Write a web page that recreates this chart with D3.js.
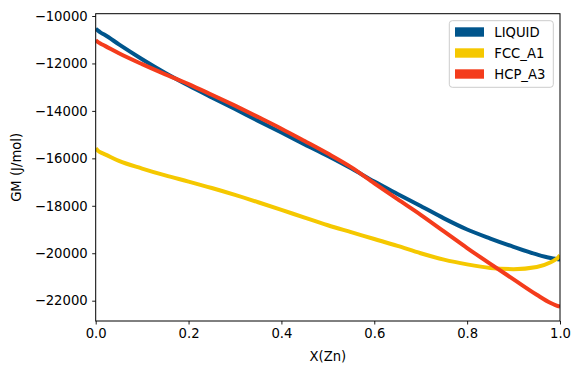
<!DOCTYPE html>
<html>
<head>
<meta charset="utf-8">
<script src="https://cdn.jsdelivr.net/npm/d3@7"></script>
<style>
  html, body { margin: 0; padding: 0; background: #fff; }
  svg { display: block; }
  text { font-family: "DejaVu Sans", sans-serif; }
</style>
</head>
<body>
<svg id="chart" width="581" height="374"></svg>
<script>
// ---- data ----
const xValues  = [0, 0.005, 0.01, 0.02, 0.05, 0.1, 0.15, 0.2, 0.25, 0.3, 0.35, 0.4, 0.45, 0.5, 0.55, 0.6, 0.65, 0.7, 0.75, 0.8, 0.85, 0.9, 0.95, 0.98, 0.99, 0.995, 1.0];
const liquidGM = [-10540, -10620, -10690, -10800, -11195, -11820, -12400, -12930, -13430, -13920, -14420, -14910, -15410, -15900, -16420, -16980, -17500, -18010, -18530, -19000, -19380, -19730, -20050, -20200, -20235, -20250, -20260];
const fccGM    = [-15580, -15680, -15740, -15830, -16110, -16430, -16720, -16980, -17250, -17540, -17850, -18170, -18500, -18820, -19110, -19400, -19690, -20000, -20270, -20470, -20620, -20670, -20580, -20380, -20270, -20200, -20090];
const hcpGM    = [-11020, -11100, -11160, -11260, -11570, -12030, -12460, -12870, -13320, -13780, -14260, -14750, -15270, -15800, -16370, -17050, -17720, -18380, -19080, -19780, -20450, -21100, -21750, -22100, -22190, -22225, -22250];
const seriesNames  = ["LIQUID", "FCC_A1", "HCP_A3"];
const seriesColors = ["#00558C", "#F5C800", "#F43C1C"];
const xTicks = [0, 0.2, 0.4, 0.6, 0.8, 1.0];
const yTicks = [-22000, -20000, -18000, -16000, -14000, -12000, -10000];
const xLabel = "X(Zn)";
const yLabel = "GM (J/mol)";

const series = [liquidGM, fccGM, hcpGM].map((vals, i) => ({
  name: seriesNames[i], color: seriesColors[i],
  points: xValues.map((x, j) => [x, vals[j]])
}));

// ---- layout ----
const svg = d3.select("#chart");
const m = { left: 95.7, right: 560, top: 13.7, bottom: 321 };
const x = d3.scaleLinear().domain([0, 1]).range([m.left, m.right]);
const y = d3.scaleLinear().domain([-22856, -9903]).range([m.bottom, m.top]);
const fs = 13.2;

svg.append("defs").append("clipPath").attr("id", "clip")
  .append("rect").attr("x", m.left).attr("y", m.top)
  .attr("width", m.right - m.left).attr("height", m.bottom - m.top);

const line = d3.line().x(d => x(d[0])).y(d => y(d[1])).curve(d3.curveMonotoneX);

const g = svg.append("g").attr("clip-path", "url(#clip)");
series.forEach(s => {
  g.append("path").attr("d", line(s.points))
    .attr("fill", "none").attr("stroke", s.color).attr("stroke-width", 4);
});

// axes
const fmtMinus = v => (v < 0 ? "\u2212" : "") + Math.abs(v);
const xAxis = d3.axisBottom(x).tickValues(xTicks).tickFormat(d3.format(".1f")).tickSize(3.5).tickPadding(4.5);
const yAxis = d3.axisLeft(y).tickValues(yTicks).tickFormat(fmtMinus).tickSize(3.5).tickPadding(4.5);

const gx = svg.append("g").attr("transform", `translate(0,${m.bottom})`).call(xAxis);
const gy = svg.append("g").attr("transform", `translate(${m.left},0)`).call(yAxis);
[gx, gy].forEach(a => {
  a.select(".domain").remove();
  a.selectAll("line").attr("stroke", "#000").attr("stroke-width", 0.9);
  a.selectAll("text").attr("font-size", fs).attr("fill", "#000").attr("font-family", "DejaVu Sans");
});

// frame
svg.append("rect").attr("x", m.left).attr("y", m.top)
  .attr("width", m.right - m.left).attr("height", m.bottom - m.top)
  .attr("fill", "none").attr("stroke", "#000").attr("stroke-width", 1);

// axis labels
svg.append("text").attr("x", (m.left + m.right) / 2).attr("y", 360.5)
  .attr("text-anchor", "middle").attr("font-size", fs).text(xLabel);
svg.append("text").attr("transform", `translate(20.5,${(m.top + m.bottom) / 2}) rotate(-90)`)
  .attr("text-anchor", "middle").attr("font-size", fs).text(yLabel);

// legend
const lg = svg.append("g");
lg.append("rect").attr("x", 449.3).attr("y", 20.7).attr("width", 104).attr("height", 66.6)
  .attr("rx", 3).attr("fill", "#fff").attr("fill-opacity", 0.8)
  .attr("stroke", "#ccc").attr("stroke-width", 1);
series.forEach((s, i) => {
  const cy = 32 + i * 21;
  lg.append("rect").attr("x", 455).attr("y", cy - 4.7).attr("width", 29).attr("height", 9.4).attr("fill", s.color);
  lg.append("text").attr("x", 494.3).attr("y", cy + 4.7).attr("font-size", fs).text(s.name);
});
</script>
</body>
</html>
